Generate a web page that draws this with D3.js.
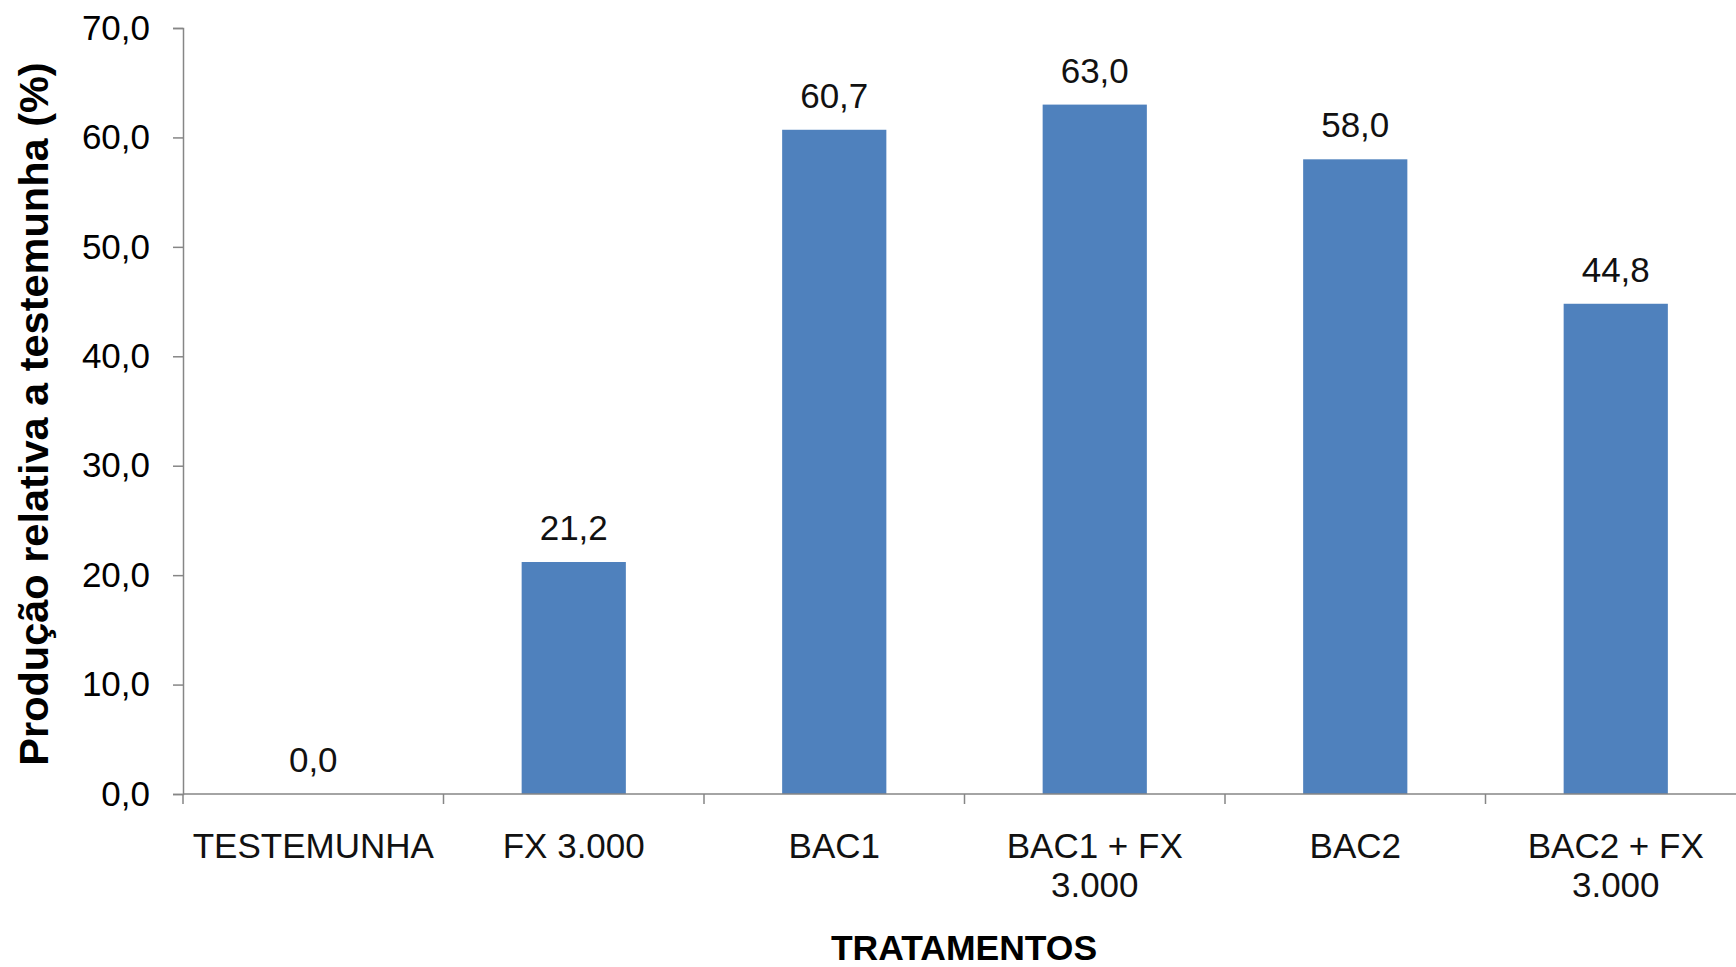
<!DOCTYPE html>
<html>
<head>
<meta charset="utf-8">
<script src="https://cdn.jsdelivr.net/npm/d3@7"></script>
<style>
  html, body { margin: 0; padding: 0; background: #fff; }
  svg { display: block; }
  text { font-family: "Liberation Sans", Arial, sans-serif; fill: #000; }
</style>
</head>
<body>
<svg id="chart" width="1736" height="967"></svg>
<script>
// Treatments (two-line labels split on "\n")
const categories = ["TESTEMUNHA", "FX 3.000", "BAC1", "BAC1 + FX\n3.000", "BAC2", "BAC2 + FX\n3.000"];
const values = [0.0, 21.2, 60.7, 63.0, 58.0, 44.8];
const yTicks = [0, 10, 20, 30, 40, 50, 60, 70];
const yTitle = "Produção relativa a testemunha (%)";
const xTitle = "TRATAMENTOS";

const svg = d3.select("#chart");
const fmt = v => v.toFixed(1).replace(".", ",");

const plot = { left: 183, top: 28, bottom: 794, step: 260.5 };

const x = d3.scaleBand()
  .domain(categories)
  .range([plot.left, plot.left + plot.step * categories.length])
  .padding(0);

const y = d3.scaleLinear()
  .domain([0, 70])
  .range([plot.bottom, plot.top]);

const barW = x.bandwidth() * 0.4;
const axisColor = "#868686";
const textColor = "#111";

// Bars
svg.append("g")
  .selectAll("rect")
  .data(values)
  .join("rect")
  .attr("x", (d, i) => x(categories[i]) + (x.bandwidth() - barW) / 2)
  .attr("y", d => y(d))
  .attr("width", barW)
  .attr("height", d => y(0) - y(d))
  .attr("fill", "#4F81BD");

// Y axis
const yAxis = svg.append("g")
  .attr("transform", `translate(${plot.left},0)`)
  .call(d3.axisLeft(y).tickValues(yTicks).tickFormat(fmt).tickSize(10).tickPadding(23));
yAxis.select(".domain").attr("stroke", axisColor).attr("stroke-width", 1.5);
yAxis.selectAll(".tick line").attr("stroke", axisColor).attr("stroke-width", 1.5);
yAxis.selectAll(".tick text")
  .attr("font-size", 35)
  .attr("font-family", "Liberation Sans, Arial, sans-serif")
  .attr("fill", textColor);

// X axis: baseline plus boundary ticks between categories
const xAxisG = svg.append("g").attr("transform", `translate(0,${plot.bottom})`);
xAxisG.append("line")
  .attr("x1", plot.left).attr("x2", x.range()[1])
  .attr("y1", 0).attr("y2", 0)
  .attr("stroke", axisColor).attr("stroke-width", 1.5);
const bounds = categories.map(c => x(c)).concat([x.range()[1]]);
xAxisG.selectAll("line.b")
  .data(bounds)
  .join("line")
  .attr("class", "b")
  .attr("x1", d => d).attr("x2", d => d)
  .attr("y1", 0).attr("y2", 10)
  .attr("stroke", axisColor).attr("stroke-width", 1.5);

// Category labels
xAxisG.selectAll("text.cat")
  .data(categories)
  .join("text")
  .attr("class", "cat")
  .attr("x", d => x(d) + x.bandwidth() / 2)
  .attr("y", 64)
  .attr("text-anchor", "middle")
  .attr("font-size", 35)
  .style("fill", textColor)
  .each(function(d) {
    const lines = d.split("\n");
    d3.select(this).selectAll("tspan")
      .data(lines)
      .join("tspan")
      .attr("x", x(d) + x.bandwidth() / 2)
      .attr("dy", (l, i) => i === 0 ? 0 : 39)
      .text(l => l);
  });

// Value labels
svg.append("g")
  .selectAll("text")
  .data(values)
  .join("text")
  .attr("x", (d, i) => x(categories[i]) + x.bandwidth() / 2)
  .attr("y", d => y(d) - 22)
  .attr("text-anchor", "middle")
  .attr("font-size", 35)
  .style("fill", textColor)
  .text(fmt);

// Axis titles
svg.append("text")
  .attr("transform", "translate(48,414) rotate(-90)")
  .attr("text-anchor", "middle")
  .attr("font-size", 41.5)
  .attr("font-weight", "bold")
  .text(yTitle);

svg.append("text")
  .attr("x", 964)
  .attr("y", 960)
  .attr("text-anchor", "middle")
  .attr("font-size", 35.5)
  .attr("font-weight", "bold")
  .text(xTitle);
</script>
</body>
</html>
